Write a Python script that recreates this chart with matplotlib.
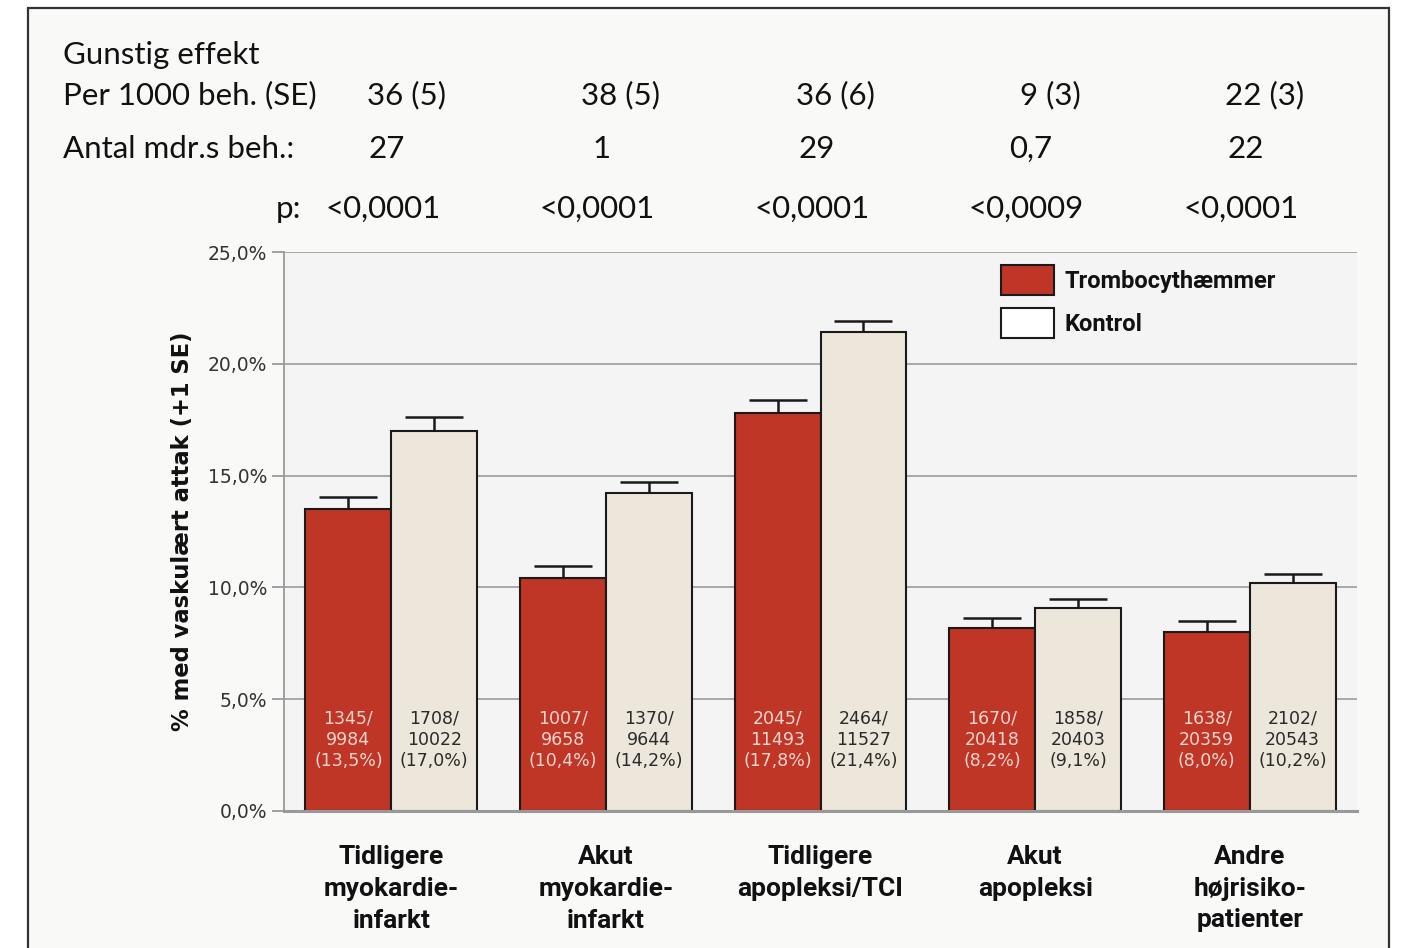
import matplotlib
matplotlib.use("Agg")
import matplotlib.pyplot as plt
from matplotlib.patches import Rectangle, Patch
import matplotlib.transforms as mtransforms
import numpy as np

# ---- data ----
categories = ["Tidligere\nmyokardie-\ninfarkt", "Akut\nmyokardie-\ninfarkt",
              "Tidligere\napopleksi/TCI", "Akut\napopleksi",
              "Andre\nhøjrisiko-\npatienter"]
treat_pct = [13.5, 10.4, 17.8, 8.2, 8.0]
ctrl_pct = [17.0, 14.2, 21.4, 9.1, 10.2]
treat_se = [0.55, 0.55, 0.6, 0.45, 0.5]
ctrl_se = [0.6, 0.5, 0.5, 0.4, 0.4]
treat_events = ["1345", "1007", "2045", "1670", "1638"]
treat_n = ["9984", "9658", "11493", "20418", "20359"]
treat_lbl = ["13,5%", "10,4%", "17,8%", "8,2%", "8,0%"]
ctrl_events = ["1708", "1370", "2464", "1858", "2102"]
ctrl_n = ["10022", "9644", "11527", "20403", "20543"]
ctrl_lbl = ["17,0%", "14,2%", "21,4%", "9,1%", "10,2%"]
benefit = ["36 (5)", "38 (5)", "36 (6)", "9 (3)", "22 (3)"]
months = ["27", "1", "29", "0,7", "22"]
pvals = ["<0,0001", "<0,0001", "<0,0001", "<0,0009", "<0,0001"]
yticks = [0, 5, 10, 15, 20, 25]
legend_labels = ["Trombocythæmmer", "Kontrol"]

RED = "#bf3526"
BEIGE = "#ede7db"
TOPFONT = ["Lato", "DejaVu Sans"]
AXFONT = ["Roboto", "DejaVu Sans"]
NUMFONT = ["DejaVu Sans"]
TFS = 22.5

W, H = 1404, 948
fig = plt.figure(figsize=(W / 100, H / 100), dpi=100, facecolor="white")

# outer frame
fig.patches.append(Rectangle((28 / W, -0.05), (1389 - 28) / W, 1 - 8 / H + 0.05,
                             transform=fig.transFigure, facecolor="#f9f9f8",
                             edgecolor="#333333", linewidth=1.6, zorder=-10))

ax = fig.add_axes([284 / W, 1 - 811 / H, (1357 - 284) / W, (811 - 252) / H])
ax.set_facecolor("#f4f4f4")

x = np.arange(len(categories))
bw = 0.4
ax.bar(x - bw / 2, treat_pct, bw, color=RED, edgecolor="#1a1a1a", linewidth=1.5, zorder=3)
ax.bar(x + bw / 2, ctrl_pct, bw, color=BEIGE, edgecolor="#1a1a1a", linewidth=1.5, zorder=3)
ax.errorbar(x - bw / 2, treat_pct, yerr=[np.zeros(len(x)), treat_se], fmt="none",
            ecolor="#1a1a1a", elinewidth=1.8, capsize=21, capthick=1.8, zorder=2)
ax.errorbar(x + bw / 2, ctrl_pct, yerr=[np.zeros(len(x)), ctrl_se], fmt="none",
            ecolor="#1a1a1a", elinewidth=1.8, capsize=21, capthick=1.8, zorder=2)

ax.set_xlim(-0.5, len(categories) - 0.5)
ax.set_ylim(0, 25)
ax.set_yticks(yticks)
ax.set_yticklabels([f"{v},0%" for v in yticks], family=NUMFONT, fontsize=13.5, color="#333333")
ax.yaxis.grid(True, color="#a3a3a3", linewidth=1.3, zorder=0)
ax.set_axisbelow(True)
ax.tick_params(axis="y", length=9, width=1.3, color="#999999", pad=3)
ax.tick_params(axis="x", length=0)
ax.set_xticks([])
for s in ["top", "right"]:
    ax.spines[s].set_visible(False)
ax.spines["left"].set_color("#999999")
ax.spines["left"].set_linewidth(1.3)
ax.spines["bottom"].set_color("#999999")
ax.spines["bottom"].set_linewidth(2.2)
ax.spines["bottom"].set_zorder(5)

ax.set_ylabel("% med vaskulært attak (+1 SE)", family=NUMFONT, fontsize=16.3,
              fontweight="bold", color="#111111", labelpad=10)

# in-bar labels
for i in range(len(x)):
    ax.text(x[i] - bw / 2, 4.52, f"{treat_events[i]}/\n{treat_n[i]}\n({treat_lbl[i]})",
            ha="center", va="top", fontsize=12.5, color="#f6d6d0", family=NUMFONT,
            linespacing=1.2, zorder=6)
    ax.text(x[i] + bw / 2, 4.52, f"{ctrl_events[i]}/\n{ctrl_n[i]}\n({ctrl_lbl[i]})",
            ha="center", va="top", fontsize=12.5, color="#2a2a2a", family=NUMFONT,
            linespacing=1.2, zorder=6)

# category labels
for i, c in enumerate(categories):
    ax.text(x[i], -1.5, c, ha="center", va="top", fontsize=19, fontweight="bold",
            family=AXFONT, color="#111111", linespacing=1.42)

# legend
handles = [Patch(facecolor=RED, edgecolor="#1a1a1a", linewidth=1.5),
           Patch(facecolor="white", edgecolor="#1a1a1a", linewidth=1.5)]
leg = ax.legend(handles, legend_labels, loc="upper left", bbox_to_anchor=(0.6595, 0.994),
                frameon=False, prop={"family": AXFONT, "size": 17, "weight": "bold"},
                handlelength=2.25, handleheight=1.6, labelspacing=0.55, handletextpad=0.45,
                borderaxespad=0)
for t in leg.get_texts():
    t.set_color("#111111")

# top text block
bt = mtransforms.blended_transform_factory(ax.transData, fig.transFigure)
fig.text(63 / W, 1 - 55 / H, "Gunstig effekt", family=TOPFONT, fontsize=TFS, va="center",
         color="#111111")
fig.text(63 / W, 1 - 95 / H, "Per 1000 beh. (SE)", family=TOPFONT, fontsize=TFS, va="center",
         color="#111111")
fig.text(63 / W, 1 - 149 / H, "Antal mdr.s beh.:", family=TOPFONT, fontsize=TFS, va="center",
         color="#111111")
fig.text(288 / W, 1 - 209 / H, "p:", family=TOPFONT, fontsize=TFS, va="center",
         ha="center", color="#111111")
for i in range(len(x)):
    fig.text(x[i] + 0.07, 1 - 95 / H, benefit[i], transform=bt, family=TOPFONT, fontsize=TFS,
             va="center", ha="center", color="#111111")
    fig.text(x[i] - 0.02, 1 - 149 / H, months[i], transform=bt, family=TOPFONT, fontsize=TFS,
             va="center", ha="center", color="#111111")
    fig.text(x[i] - 0.04, 1 - 209 / H, pvals[i], transform=bt, family=TOPFONT, fontsize=TFS,
             va="center", ha="center", color="#111111")

fig.savefig("out.png", dpi=100, facecolor=fig.get_facecolor())
